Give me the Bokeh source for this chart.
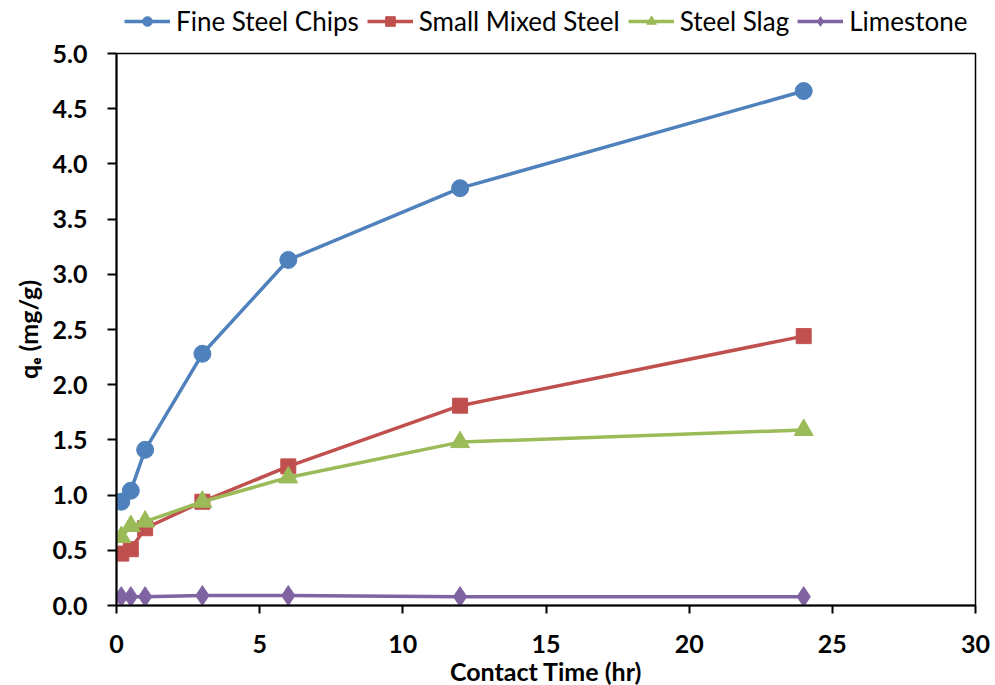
from bokeh.plotting import figure
from bokeh.layouts import column
from bokeh.models import Range1d, FixedTicker, NumeralTickFormatter, Legend, LegendItem
from bokeh.embed import file_html
from bokeh.resources import INLINE

# ---- data ----
time_hr = [0.167, 0.5, 1, 3, 6, 12, 24]
fine_steel_chips = [0.94, 1.04, 1.41, 2.28, 3.13, 3.78, 4.66]
small_mixed_steel = [0.47, 0.51, 0.70, 0.94, 1.26, 1.81, 2.44]
steel_slag = [0.62, 0.72, 0.76, 0.94, 1.16, 1.48, 1.59]
limestone = [0.08, 0.08, 0.08, 0.09, 0.09, 0.08, 0.08]
series_names = ["Fine Steel Chips", "Small Mixed Steel", "Steel Slag", "Limestone"]
x_ticks = [0, 5, 10, 15, 20, 25, 30]
y_ticks = [0, 0.5, 1.0, 1.5, 2.0, 2.5, 3.0, 3.5, 4.0, 4.5, 5.0]

FONT = "Lato"

specs = [
    (fine_steel_chips, "#4F81BD", "circle", 17),
    (small_mixed_steel, "#C0504D", "square", 15),
    (steel_slag, "#9BBB59", "triangle", 19),
    (limestone, "#8064A2", "diamond", 20),
]

# ---- main chart ----
p = figure(
    output_backend="svg", toolbar_location=None,
    frame_width=859, frame_height=552,
    min_border_left=116, min_border_right=20, min_border_top=16, min_border_bottom=78,
    x_range=Range1d(0, 30), y_range=Range1d(0, 5),
    background_fill_color="white", border_fill_color="white",
)
p.grid.visible = False
p.outline_line_color = "black"
p.outline_line_width = 1.5

for ax in (p.xaxis[0], p.yaxis[0]):
    ax.axis_line_width = 2
    ax.axis_line_color = "black"
    ax.major_tick_line_width = 2
    ax.major_tick_line_color = "black"
    ax.major_tick_in = 0
    ax.minor_tick_line_color = None
    ax.major_label_text_font = FONT
    ax.major_label_text_font_style = "bold"
    ax.major_label_text_font_size = "25px"
    ax.major_label_text_color = "black"
    ax.axis_label_text_font = FONT
    ax.axis_label_text_font_style = "bold"
    ax.axis_label_text_font_size = "25px"
    ax.axis_label_text_color = "black"

p.xaxis.ticker = FixedTicker(ticks=x_ticks)
p.yaxis.ticker = FixedTicker(ticks=y_ticks)
p.yaxis.formatter = NumeralTickFormatter(format="0.0")
p.xaxis.major_tick_out = 8
p.yaxis.major_tick_out = 9
p.xaxis.major_label_standoff = 21
p.yaxis.major_label_standoff = 20
p.xaxis.axis_label = "Contact Time (hr)"
p.xaxis.axis_label_standoff = 0
p.yaxis.axis_label = "q\u2091 (mg/g)"
p.yaxis.axis_label_standoff = 7

for (vals, color, marker, size) in specs:
    p.line(time_hr, vals, line_color=color, line_width=3.5)
    p.scatter(time_hr, vals, marker=marker, size=size, fill_color=color, line_color=color)

# ---- legend strip (same series, drawn off-range so only the legend shows) ----
lg = figure(
    output_backend="svg", toolbar_location=None,
    width=995, height=37, min_border=0,
    x_axis_location=None, y_axis_location=None,
    x_range=Range1d(-200, -199), y_range=Range1d(-200, -199),
    background_fill_color="white", border_fill_color="white",
)
lg.grid.visible = False
lg.outline_line_color = None

items = []
for (vals, color, marker, size), name in zip(specs, series_names):
    ln = lg.line(time_hr, vals, line_color=color, line_width=3.5)
    sc = lg.scatter(time_hr, vals, marker=marker, size=size, fill_color=color, line_color=color)
    items.append(LegendItem(label=name, renderers=[ln, sc]))

legend = Legend(
    items=items, orientation="horizontal",
    location=(8, 0),
    label_text_font=FONT, label_text_font_size="26px", label_text_color="black",
    glyph_width=46, glyph_height=24, label_standoff=6, spacing=8,
    padding=0, margin=0, border_line_color=None, background_fill_alpha=0,
)
lg.add_layout(legend, "center")

layout = column(lg, p, spacing=0)
open("out.html", "w").write(file_html(layout, INLINE))
